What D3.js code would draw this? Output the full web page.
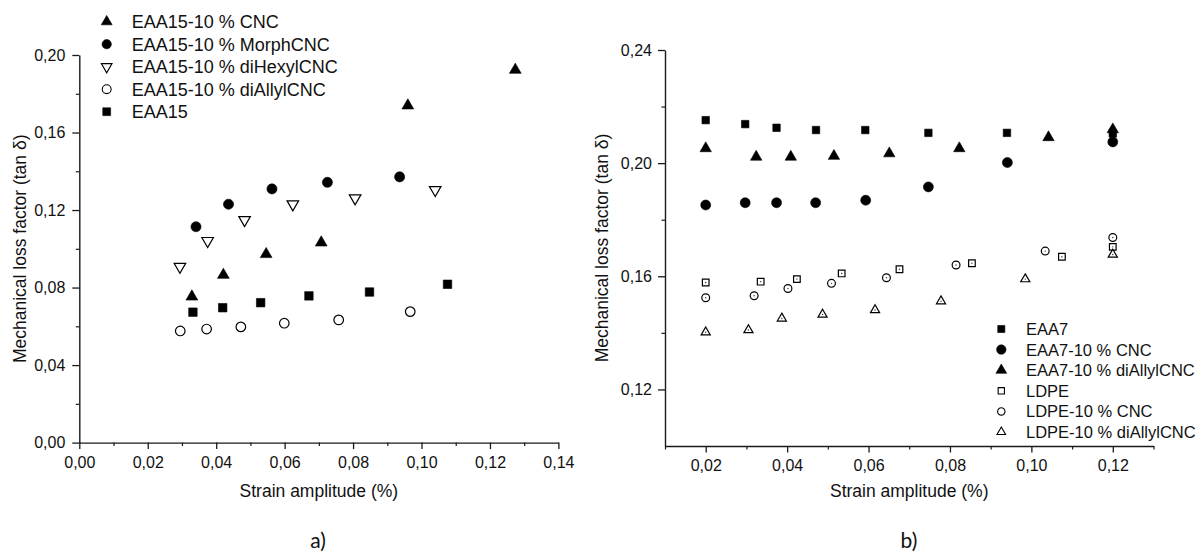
<!DOCTYPE html>
<html><head><meta charset="utf-8">
<script src="https://cdn.jsdelivr.net/npm/d3@7"></script>
<style>
html,body{margin:0;padding:0;background:#fff;}
svg{display:block;font-family:"Liberation Sans",Arial,sans-serif;}
</style></head>
<body>
<svg id="chart" width="1203" height="559"></svg>
<script>
// ---------- DATA ----------
// Panel a)
const legendA = ["EAA15-10 % CNC","EAA15-10 % MorphCNC","EAA15-10 % diHexylCNC","EAA15-10 % diAllylCNC","EAA15"];
const a_CNC_x = [0.0329,0.0421,0.0546,0.0707,0.0960,0.1274];
const a_CNC_y = [0.0753,0.0865,0.0972,0.1032,0.1739,0.1923];
const a_Morph_x = [0.0341,0.0436,0.0563,0.0725,0.0936];
const a_Morph_y = [0.1114,0.1230,0.1309,0.1343,0.1371];
const a_diHexyl_x = [0.0294,0.0375,0.0483,0.0624,0.0806,0.1040];
const a_diHexyl_y = [0.0908,0.1041,0.1149,0.1230,0.1261,0.1304];
const a_diAllyl_x = [0.0295,0.0372,0.0472,0.0599,0.0758,0.0967];
const a_diAllyl_y = [0.0576,0.0586,0.0597,0.0616,0.0633,0.0676];
const a_EAA15_x = [0.0332,0.0419,0.0530,0.0671,0.0848,0.1076];
const a_EAA15_y = [0.0673,0.0696,0.0722,0.0757,0.0777,0.0817];
const a_xTicks = [0,0.02,0.04,0.06,0.08,0.10,0.12,0.14];
const a_yTicks = [0,0.04,0.08,0.12,0.16,0.20];

// Panel b)
const legendB = ["EAA7","EAA7-10 % CNC","EAA7-10 % diAllylCNC","LDPE","LDPE-10 % CNC","LDPE-10 % diAllylCNC"];
const b_EAA7_x = [0.020,0.0297,0.0374,0.0471,0.0592,0.0747,0.0940,0.120];
const b_EAA7_y = [0.2152,0.2138,0.2125,0.2117,0.2117,0.2107,0.2107,0.2105];
const b_EAA7CNC_x = [0.020,0.0297,0.0374,0.0470,0.0593,0.0747,0.0941,0.120];
const b_EAA7CNC_y = [0.1852,0.1860,0.1860,0.1860,0.1869,0.1916,0.2002,0.2075];
const b_EAA7diAllyl_x = [0.020,0.0324,0.0409,0.0515,0.0651,0.0823,0.1042,0.120];
const b_EAA7diAllyl_y = [0.2052,0.2022,0.2022,0.2025,0.2034,0.2052,0.2091,0.2119];
const b_LDPE_x = [0.020,0.0335,0.0424,0.0534,0.0676,0.0854,0.1075,0.120];
const b_LDPE_y = [0.1578,0.1581,0.1590,0.1610,0.1625,0.1646,0.1669,0.1704];
const b_LDPECNC_x = [0.020,0.0319,0.0402,0.0509,0.0644,0.0815,0.1034,0.120];
const b_LDPECNC_y = [0.1524,0.1531,0.1557,0.1575,0.1595,0.1640,0.1689,0.1737];
const b_LDPEdiAllyl_x = [0.020,0.0305,0.0387,0.0487,0.0616,0.0778,0.0985,0.120];
const b_LDPEdiAllyl_y = [0.1402,0.1410,0.1451,0.1465,0.1481,0.1512,0.1590,0.1677];
const b_xTicks = [0.02,0.04,0.06,0.08,0.10,0.12];
const b_yTicks = [0.12,0.16,0.20,0.24];

const xTitle = "Strain amplitude (%)";
const yTitle = "Mechanical loss factor (tan δ)";
const panelLabels = ["a)","b)"];

// ---------- DRAW ----------
const svg = d3.select("#chart");
const fmt = v => d3.format(".2f")(v).replace(".", ",");
const AX = "#1a1a1a";

function zip(xs, ys){ return xs.map((x,i)=>({x:x,y:ys[i]})); }

function drawAxes(g, x, y, xt, yt, xMinor, yMinor, opts){
  // minor ticks
  g.append("g").attr("transform",`translate(0,${y.range()[0]})`)
    .call(d3.axisBottom(x).tickValues(xMinor).tickSize(3.5).tickSizeOuter(0).tickFormat(""))
    .call(s=>s.select(".domain").remove())
    .call(s=>s.selectAll("line").attr("stroke",AX).attr("stroke-width",1.2));
  g.append("g").attr("transform",`translate(${x.range()[0]},0)`)
    .call(d3.axisLeft(y).tickValues(yMinor).tickSize(3.5).tickSizeOuter(0).tickFormat(""))
    .call(s=>s.select(".domain").remove())
    .call(s=>s.selectAll("line").attr("stroke",AX).attr("stroke-width",1.2));
  // major
  const gx = g.append("g").attr("transform",`translate(0,${y.range()[0]})`)
    .call(d3.axisBottom(x).tickValues(xt).tickSize(6.5).tickSizeOuter(0).tickPadding(opts.xPad).tickFormat(fmt));
  const gy = g.append("g").attr("transform",`translate(${x.range()[0]},0)`)
    .call(d3.axisLeft(y).tickValues(yt).tickSize(7).tickSizeOuter(0).tickPadding(opts.yPad).tickFormat(fmt));
  [gx,gy].forEach(s=>{
    s.select(".domain").attr("stroke",AX).attr("stroke-width",1.4);
    s.selectAll("line").attr("stroke",AX).attr("stroke-width",1.3);
    s.selectAll("text").attr("fill","#111").style("font-size","16px").style("font-family","'Liberation Sans',Arial,sans-serif");
  });
}

function sym(type, size){ return d3.symbol().type(type).size(size)(); }

function drawMarks(g, pts, x, y, m){
  const sel = g.append("g").selectAll("g").data(pts).join("g")
    .attr("transform", d=>`translate(${x(d.x)},${y(d.y)})`);
  sel.append("path").attr("d", sym(m.type, m.size))
    .attr("transform", m.rot ? "rotate(180)" : null)
    .attr("fill", m.open ? "#fff" : "#000")
    .attr("stroke", "#000").attr("stroke-width", m.open ? 1.2 : 0.6);
  if (m.dot) sel.append("circle").attr("r",0.7).attr("fill","#333");
}

function drawLegend(g, labels, markers, x0, tx, y0, dy, fs){
  labels.forEach((lab,i)=>{
    const m = markers[i];
    g.append("path").attr("d", sym(m.type, m.lsize || m.size))
      .attr("transform", `translate(${x0},${y0+i*dy})` + (m.rot?" rotate(180)":""))
      .attr("fill", m.open ? "#fff" : "#000").attr("stroke","#000").attr("stroke-width", m.open?1.1:0.6);
    g.append("text").attr("x",tx).attr("y",y0+i*dy).attr("dy","0.36em")
      .style("font-size",fs+"px").attr("fill","#111").text(lab);
  });
}

// ---- Panel a ----
const ax = d3.scaleLinear().domain([0,0.14]).range([79.3,558.4]);
const ay = d3.scaleLinear().domain([0,0.20]).range([442.6,55]);
const ga = svg.append("g");
drawAxes(ga, ax, ay, a_xTicks, a_yTicks,
  d3.range(0.01,0.14,0.02), [0.02,0.06,0.10,0.14,0.18], {xPad:8, yPad:7});

const mA = [
  {type:d3.symbolTriangle,size:60},
  {type:d3.symbolCircle,size:80},
  {type:d3.symbolTriangle,size:58,rot:true,open:true},
  {type:d3.symbolCircle,size:72,open:true},
  {type:d3.symbolSquare,size:72}
];
const seriesA = [zip(a_CNC_x,a_CNC_y), zip(a_Morph_x,a_Morph_y), zip(a_diHexyl_x,a_diHexyl_y), zip(a_diAllyl_x,a_diAllyl_y), zip(a_EAA15_x,a_EAA15_y)];
seriesA.forEach((s,i)=>drawMarks(ga, s, ax, ay, mA[i]));
drawLegend(ga, legendA, mA.map(m=>Object.assign({},m,{lsize:m.size*0.85})), 106.7, 131.7, 21.7, 22.5, 18);

ga.append("text").attr("x",ax(0.07)).attr("y",497).attr("text-anchor","middle")
  .style("font-size","17.5px").attr("fill","#111").text(xTitle);
ga.append("text").attr("transform",`translate(26,${(ay.range()[0]+ay.range()[1])/2}) rotate(-90)`)
  .attr("text-anchor","middle").style("font-size","17.5px").attr("fill","#111").text(yTitle);

// ---- Panel b ----
const bx = d3.scaleLinear().domain([0.01,0.13]).range([665,1153.5]);
const by = d3.scaleLinear().domain([0.10,0.24]).range([446,50]);
const gb = svg.append("g");
drawAxes(gb, bx, by, b_xTicks, b_yTicks,
  [0.01,0.03,0.05,0.07,0.09,0.11,0.13], [0.14,0.18,0.22], {xPad:7, yPad:6});

const mB = [
  {type:d3.symbolSquare,size:56},
  {type:d3.symbolCircle,size:78},
  {type:d3.symbolTriangle,size:56},
  {type:d3.symbolSquare,size:44,open:true,dot:true},
  {type:d3.symbolCircle,size:48,open:true,dot:true},
  {type:d3.symbolTriangle,size:36,open:true,dot:true}
];
const seriesB = [zip(b_EAA7_x,b_EAA7_y), zip(b_EAA7CNC_x,b_EAA7CNC_y), zip(b_EAA7diAllyl_x,b_EAA7diAllyl_y),
  zip(b_LDPE_x,b_LDPE_y), zip(b_LDPECNC_x,b_LDPECNC_y), zip(b_LDPEdiAllyl_x,b_LDPEdiAllyl_y)];
seriesB.forEach((s,i)=>drawMarks(gb, s, bx, by, mB[i]));
drawLegend(gb, legendB, mB.map(m=>Object.assign({},m,{lsize:m.size*0.9})), 1001.3, 1026, 329, 20.6, 16.5);

gb.append("text").attr("x",bx(0.07)).attr("y",497).attr("text-anchor","middle")
  .style("font-size","17.5px").attr("fill","#111").text(xTitle);
gb.append("text").attr("transform",`translate(608,${(by.range()[0]+by.range()[1])/2}) rotate(-90)`)
  .attr("text-anchor","middle").style("font-size","17.5px").attr("fill","#111").text(yTitle);

// panel labels
svg.append("text").attr("x",318).attr("y",548).attr("text-anchor","middle")
  .style("font-family","Lato,'Open Sans',sans-serif").style("font-size","21px").attr("fill","#111").text(panelLabels[0]);
svg.append("text").attr("x",909).attr("y",548).attr("text-anchor","middle")
  .style("font-family","Lato,'Open Sans',sans-serif").style("font-size","21px").attr("fill","#111").text(panelLabels[1]);
</script>
</body></html>
